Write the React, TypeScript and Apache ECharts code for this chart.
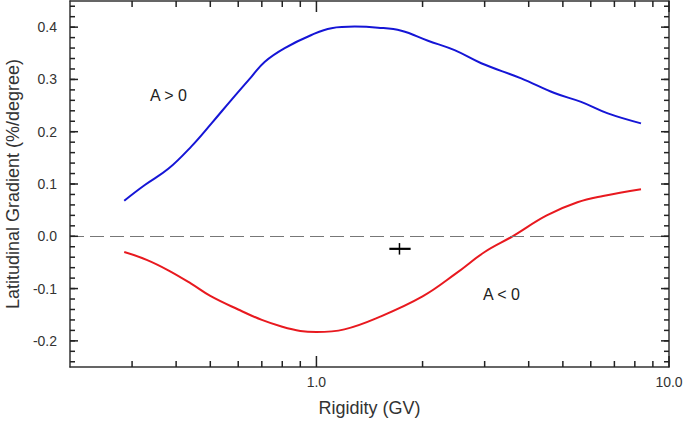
import React, { useEffect, useRef } from "react";
import * as echarts from "echarts";

// Rigidity (GV) sample points and latitudinal gradient (%/degree)
const posRigidity = [0.285, 0.326, 0.38, 0.442, 0.504, 0.574, 0.654, 0.714, 0.813, 0.968, 1.103, 1.284, 1.495, 1.741, 2.072, 2.465, 2.934, 3.808, 4.732, 5.633, 6.706, 8.329];
const posGradient = [0.068, 0.098, 0.129, 0.172, 0.216, 0.261, 0.305, 0.334, 0.36, 0.385, 0.398, 0.401, 0.399, 0.393, 0.374, 0.356, 0.331, 0.302, 0.274, 0.257, 0.235, 0.216];

const negRigidity = [0.285, 0.33, 0.38, 0.44, 0.5, 0.6, 0.7, 0.8, 0.9, 1.0, 1.2, 1.5, 2.0, 2.5, 3.0, 3.6, 4.5, 5.5, 6.5, 8.329];
const negGradient = [-0.03, -0.045, -0.065, -0.09, -0.114, -0.14, -0.16, -0.173, -0.181, -0.183, -0.178, -0.155, -0.115, -0.07, -0.03, 0.0, 0.04, 0.065, 0.077, 0.09];

// Single measured point with error bars: [rigidity, gradient, xLow, xHigh, yErr]
const measurePoint = [[1.72, -0.024, 1.61, 1.85, 0.011]];

const yMajorTicks = [-0.2, -0.1, 0, 0.1, 0.2, 0.3, 0.4];
const xMajorTicks = [1, 10];
const xMinorTicks = [0.3, 0.4, 0.5, 0.6, 0.7, 0.8, 0.9, 2, 3, 4, 5, 6, 7, 8, 9];

const X_MIN = 0.2;
const X_MAX = 10;
const Y_MIN = -0.25;
const Y_MAX = 0.45;

export default function App() {
  const ref = useRef<HTMLDivElement>(null);

  useEffect(() => {
    if (!ref.current) return;
    const chart = echarts.init(ref.current, undefined, { renderer: "svg" });

    const yMinor: number[] = [];
    for (let i = -12; i <= 22; i++) yMinor.push(Math.round(i * 2) / 100);

    const font = "Liberation Sans, Arial, sans-serif";
    const lineColor = "#333";
    const lg = (v: number) => Math.log10(v);

    chart.setOption({
      animation: false,
      backgroundColor: "#fff",
      grid: { left: 70, right: 16, top: 1, bottom: 63, containLabel: false, outerBoundsMode: "none" },
      xAxis: [
        {
          type: "log",
          logBase: 10,
          min: X_MIN,
          max: X_MAX,
          position: "bottom",
          name: "Rigidity (GV)",
          nameLocation: "middle",
          nameGap: 32,
          nameTextStyle: { fontFamily: font, fontSize: 18, color: "#333" },
          axisLine: { show: true, onZero: false, lineStyle: { color: lineColor, width: 1.5 } },
          axisTick: { show: false },
          axisLabel: { show: false },
          splitLine: { show: false },
        },
        {
          type: "log",
          logBase: 10,
          min: X_MIN,
          max: X_MAX,
          position: "top",
          axisLine: { show: true, onZero: false, lineStyle: { color: lineColor, width: 1.5 } },
          axisTick: { show: false },
          axisLabel: { show: false },
          splitLine: { show: false },
        },
        {
          type: "value",
          position: "bottom",
          min: lg(X_MIN),
          max: lg(X_MAX),
          axisLine: { show: false, onZero: false },
          splitLine: { show: false },
          axisTick: { show: false },
          axisLabel: {
            show: true,
            customValues: xMajorTicks.map(lg),
            formatter: (v: number) => Math.pow(10, v).toFixed(1),
            fontFamily: font,
            fontSize: 14,
            color: "#333",
            margin: 8,
          },
        },
      ],
      yAxis: [
        {
          type: "value",
          min: Y_MIN,
          max: Y_MAX,
          position: "left",
          name: "Latitudinal Gradient (%/degree)",
          nameLocation: "middle",
          nameGap: 44,
          nameTextStyle: { fontFamily: font, fontSize: 18, color: "#333" },
          axisLine: { show: true, onZero: false, lineStyle: { color: lineColor, width: 1.5 } },
          axisTick: { show: false },
          axisLabel: {
            show: true,
            customValues: yMajorTicks,
            formatter: (v: number) => v.toFixed(1),
            fontFamily: font,
            fontSize: 14,
            color: "#333",
            margin: 13,
          },
          splitLine: { show: false },
        },
        {
          type: "value",
          min: Y_MIN,
          max: Y_MAX,
          position: "right",
          axisLine: { show: true, onZero: false, lineStyle: { color: lineColor, width: 1.5 } },
          axisTick: { show: false },
          axisLabel: { show: false },
          splitLine: { show: false },
        },
      ],
      series: [
        {
          type: "line",
          name: "A > 0",
          xAxisIndex: 0,
          yAxisIndex: 0,
          data: posRigidity.map((r, i) => [r, posGradient[i]]),
          smooth: 0.4,
          showSymbol: false,
          lineStyle: { color: "#1515d6", width: 2 },
          markLine: {
            silent: true,
            symbol: "none",
            label: { show: false },
            lineStyle: { color: "#777", width: 1, type: [14, 6] },
            data: [{ yAxis: 0 }],
          },
        },
        {
          type: "line",
          name: "A < 0",
          xAxisIndex: 0,
          yAxisIndex: 0,
          data: negRigidity.map((r, i) => [r, negGradient[i]]),
          smooth: 0.4,
          showSymbol: false,
          lineStyle: { color: "#e8191f", width: 2 },
        },
        {
          type: "custom",
          xAxisIndex: 0,
          yAxisIndex: 0,
          data: measurePoint,
          renderItem: (params: any, api: any) => {
            const x = api.value(0);
            const y = api.value(1);
            const xl = api.value(2);
            const xh = api.value(3);
            const ye = api.value(4);
            const c = api.coord([x, y]);
            const l = api.coord([xl, y]);
            const h = api.coord([xh, y]);
            const t = api.coord([x, y + ye]);
            const b = api.coord([x, y - ye]);
            return {
              type: "group",
              children: [
                { type: "line", shape: { x1: l[0], y1: c[1], x2: h[0], y2: c[1] }, style: { stroke: "#000", lineWidth: 2.2 } },
                { type: "line", shape: { x1: c[0], y1: t[1], x2: c[0], y2: b[1] }, style: { stroke: "#000", lineWidth: 1.5 } },
              ],
            };
          },
        },
      ],
    });

    // Axis ticks drawn from the chart's own scales (convertToPixel)
    const finder = { xAxisIndex: 0, yAxisIndex: 0 };
    const p0 = chart.convertToPixel(finder, [X_MIN, Y_MIN]) as number[];
    const p1 = chart.convertToPixel(finder, [X_MAX, Y_MAX]) as number[];
    const tickEls: any[] = [];
    if (p0 && p1) {
      const left = p0[0];
      const right = p1[0];
      const bottom = p0[1];
      const top = p1[1];
      const mk = () => ({ stroke: "#222222", lineWidth: 1.5 });
      const addX = (v: number, len: number) => {
        const px = (chart.convertToPixel(finder, [v, 0]) as number[])[0];
        tickEls.push({ type: "line", silent: true, z: 100, shape: { x1: px, y1: bottom, x2: px, y2: bottom - len }, style: mk() });
        tickEls.push({ type: "line", silent: true, z: 100, shape: { x1: px, y1: top, x2: px, y2: top + len }, style: mk() });
      };
      const addY = (v: number, len: number) => {
        const py = (chart.convertToPixel(finder, [1, v]) as number[])[1];
        tickEls.push({ type: "line", silent: true, z: 100, shape: { x1: left, y1: py, x2: left + len, y2: py }, style: mk() });
        tickEls.push({ type: "line", silent: true, z: 100, shape: { x1: right, y1: py, x2: right - len, y2: py }, style: mk() });
      };
      xMajorTicks.forEach((v) => addX(v, 11));
      xMinorTicks.forEach((v) => addX(v, 6));
      yMajorTicks.forEach((v) => addY(v, 8));
      yMinor.forEach((v) => addY(v, 5));
    }

    chart.setOption({
      graphic: [
        ...tickEls,
        { type: "text", z: 100, x: 150, y: 87, style: { text: "A > 0", fontFamily: font, fontSize: 16, fill: "#222" } },
        { type: "text", z: 100, x: 483, y: 286, style: { text: "A < 0", fontFamily: font, fontSize: 16, fill: "#222" } },
      ],
    });

    return () => chart.dispose();
  }, []);

  return <div ref={ref} style={{ position: "fixed", left: 0, top: 0, width: 685, height: 430 }} />;
}
